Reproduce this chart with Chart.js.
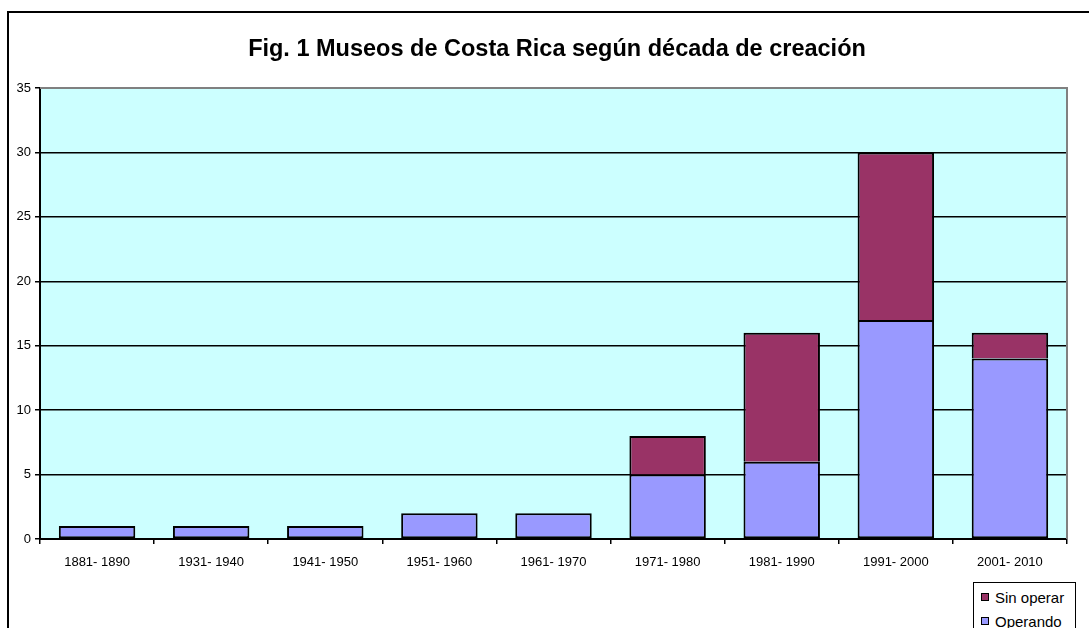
<!DOCTYPE html>
<html lang="es">
<head>
<meta charset="UTF-8">
<title>Museos de Costa Rica</title>
<script src="https://cdn.jsdelivr.net/npm/chart.js"></script>
<style>
  body { margin: 0; background: #fff; font-family: Arial, "Liberation Sans", sans-serif; }
  #wrap { position: relative; width: 1089px; height: 628px; overflow: hidden; }
  #frame {
    position: absolute; left: 7px; top: 11px; width: 1200px; height: 700px;
    border-left: 2px solid #000; border-top: 2px solid #000;
  }
  #myChart { position: absolute; left: 0; top: 0; }
  .title {
    position: absolute; left: 0; top: 34px; width: 1114px; text-align: center;
    font-size: 23.5px; line-height: 28px; font-weight: bold; color: #000; white-space: nowrap;
  }
  .legend {
    position: absolute; left: 973px; top: 582px; width: 101px; height: 60px;
    border: 1.5px solid #000; background: #fff; font-size: 15px;
  }
  .legend .row { position: absolute; left: 7px; height: 18px; line-height: 18px; white-space: nowrap; }
  .legend .sw { display: inline-block; width: 6px; height: 6px; border: 1px solid #000; margin-right: 6px; vertical-align: 2px; }
</style>
</head>
<body>
<div id="wrap">
  <div id="frame"></div>
  <canvas id="myChart" width="1089" height="628"></canvas>
  <div class="title">Fig. 1 Museos de Costa Rica según década de creación</div>
  <div class="legend">
    <div class="row" style="top:6px"><span class="sw" style="background:#993366"></span>Sin operar</div>
    <div class="row" style="top:30px"><span class="sw" style="background:#9999FF"></span>Operando</div>
  </div>
</div>

<script>
  // decades and museum counts
  var decades = ['1881- 1890', '1931- 1940', '1941- 1950', '1951- 1960', '1961- 1970',
                 '1971- 1980', '1981- 1990', '1991- 2000', '2001- 2010']
  var operando = [1, 1, 1, 2, 2, 5, 6, 17, 14]
  var sinOperar = [0, 0, 0, 0, 0, 3, 10, 13, 2]
  var yTicks = [0, 5, 10, 15, 20, 25, 30, 35]

  var font = 'Arial, "Liberation Sans", sans-serif'

  // cyan plot background plus the grey edge on top/right
  var plotArea = {
    id: 'plotArea',
    beforeDraw: function (chart) {
      var a = chart.chartArea
      var ctx = chart.ctx
      ctx.save()
      ctx.fillStyle = '#CCFFFF'
      ctx.fillRect(a.left, a.top, a.right - a.left, a.bottom - a.top)
      ctx.restore()
    },
    afterDatasetsDraw: function (chart) {
      var a = chart.chartArea
      var ctx = chart.ctx
      ctx.save()
      ctx.strokeStyle = '#808080'
      ctx.lineWidth = 2
      ctx.beginPath()
      ctx.moveTo(a.left, a.top)
      ctx.lineTo(a.right, a.top)
      ctx.lineTo(a.right, a.bottom)
      ctx.stroke()
      ctx.restore()
    }
  }

  new Chart(document.getElementById('myChart'), {
    type: 'bar',
    data: {
      labels: decades,
      datasets: [{
        label: 'Operando',
        data: operando,
        backgroundColor: '#9999FF',
        borderColor: '#000',
        borderWidth: 2,
        borderSkipped: false
      }, {
        label: 'Sin operar',
        data: sinOperar,
        backgroundColor: '#993366',
        borderColor: '#000',
        borderWidth: 2,
        borderSkipped: 'bottom'
      }]
    },
    options: {
      responsive: false,
      animation: false,
      devicePixelRatio: 1,
      layout: { padding: { left: 0, right: 22, top: 88, bottom: 0 } },
      datasets: { bar: { barPercentage: 0.67, categoryPercentage: 1 } },
      plugins: {
        legend: { display: false },
        tooltip: { enabled: false },
        title: { display: false }
      },
      scales: {
        x: {
          stacked: true,
          border: { color: '#000', width: 2 },
          grid: { offset: true, drawOnChartArea: false, drawTicks: true, tickLength: 5, color: '#000', lineWidth: 1.5 },
          ticks: { color: '#000', font: { family: font, size: 13 }, padding: 11, maxRotation: 0, autoSkip: false },
          afterFit: function (s) { s.height = 89 }
        },
        y: {
          stacked: true,
          min: 0,
          max: 35,
          border: { color: '#000', width: 2 },
          grid: {
            color: function (c) { return c.tick.value === 35 ? '#808080' : '#000' },
            lineWidth: 1.5,
            tickLength: 5,
            tickColor: '#000'
          },
          afterBuildTicks: function (s) { s.ticks = yTicks.map(function (v) { return { value: v } }) },
          ticks: { color: '#000', font: { family: font, size: 13 }, padding: 4 },
          afterFit: function (s) { s.width = 40 }
        }
      }
    },
    plugins: [plotArea]
  })
</script>
</body>
</html>
